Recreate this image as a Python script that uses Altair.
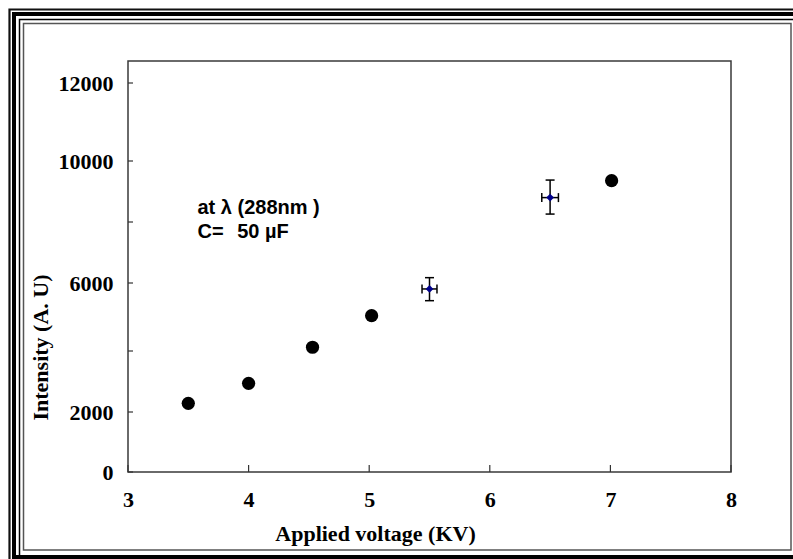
import altair as alt
import pandas as pd

# ---- data ----
voltage = [3.5, 4.0, 4.53, 5.02, 7.01]
intensity = [2285, 2940, 4110, 5040, 9355]

err_voltage = [5.5, 6.5]
err_intensity = [5825, 8800]
err_y_low = [5480, 8260]
err_y_high = [6175, 9375]
err_x_half = [0.062, 0.069]

x_ticks = [3, 4, 5, 6, 7, 8]
y_ticks = [0, 2000, 4000, 6000, 8000, 10000, 12000]
y_labels = [0, 2000, 6000, 10000, 12000]

note_line1 = "at λ (288nm )"
note_c = "C="
note_val = "50 µF"

# ---- tables ----
pts = pd.DataFrame({"v": voltage, "i": intensity})
err = pd.DataFrame({
    "v": err_voltage,
    "i": err_intensity,
    "ylo": err_y_low,
    "yhi": err_y_high,
    "xlo": [v - h for v, h in zip(err_voltage, err_x_half)],
    "xhi": [v + h for v, h in zip(err_voltage, err_x_half)],
})
xt = pd.DataFrame({"t": x_ticks})
yt = pd.DataFrame({"t": y_ticks})
notes = pd.DataFrame({
    "x": [3.576, 3.576, 3.905],
    "y": [8262, 7475, 7475],
    "txt": [note_line1, note_c, note_val],
})
one = pd.DataFrame({"k": [0]})

xscale = alt.Scale(domain=[3, 8], nice=False, zero=False)
# the reference's intensity axis is not evenly spaced: follow its tick positions
yscale = alt.Scale(
    domain=[0, 2000, 4000, 6000, 8000, 10000, 12000, 12700],
    range=[411, 351, 290, 222, 161, 100, 22, 0],
    nice=False, zero=False,
)

serif = "Liberation Serif"

x_axis = alt.Axis(
    values=x_ticks, format="d", title="Applied voltage (KV)",
    labelFont=serif, labelFontSize=22, labelFontWeight="bold", labelColor="black",
    labelPadding=17, labelFlush=False, ticks=False, tickSize=0, domain=False, grid=False,
    titleFont=serif, titleFontSize=22, titleFontWeight="bold", titleColor="black",
    titleX=247, titleY=68, titleAlign="center", titleBaseline="alphabetic",
    zindex=1,
)
y_axis = alt.Axis(
    values=y_labels, format="d", title="Intensity (A. U)",
    labelFont=serif, labelFontSize=22, labelFontWeight="bold", labelColor="black",
    labelPadding=15, labelFlush=False, ticks=False, tickSize=0, domain=False, grid=False,
    titleFont=serif, titleFontSize=22, titleFontWeight="bold", titleColor="black",
    titleX=-81, titleY=286, titleAngle=-90, titleAlign="center", titleBaseline="alphabetic",
    zindex=1,
)

points = alt.Chart(pts).mark_circle(size=175, color="black", opacity=1).encode(
    x=alt.X("v:Q", scale=xscale, axis=x_axis),
    y=alt.Y("i:Q", scale=yscale, axis=y_axis),
)

vbar = alt.Chart(err).mark_rule(color="black", strokeWidth=1.5).encode(
    x=alt.X("v:Q", scale=xscale),
    y=alt.Y("ylo:Q", scale=yscale),
    y2="yhi:Q",
)
hbar = alt.Chart(err).mark_rule(color="black", strokeWidth=1.5).encode(
    y=alt.Y("i:Q", scale=yscale),
    x=alt.X("xlo:Q", scale=xscale),
    x2="xhi:Q",
)
cap_lo = alt.Chart(err).mark_tick(orient="horizontal", size=9, thickness=1.5, color="black", opacity=1).encode(
    x=alt.X("v:Q", scale=xscale),
    y=alt.Y("ylo:Q", scale=yscale),
)
cap_hi = alt.Chart(err).mark_tick(orient="horizontal", size=9, thickness=1.5, color="black", opacity=1).encode(
    x=alt.X("v:Q", scale=xscale),
    y=alt.Y("yhi:Q", scale=yscale),
)
cap_l = alt.Chart(err).mark_tick(orient="vertical", size=9, thickness=1.5, color="black", opacity=1).encode(
    x=alt.X("xlo:Q", scale=xscale),
    y=alt.Y("i:Q", scale=yscale),
)
cap_r = alt.Chart(err).mark_tick(orient="vertical", size=9, thickness=1.5, color="black", opacity=1).encode(
    x=alt.X("xhi:Q", scale=xscale),
    y=alt.Y("i:Q", scale=yscale),
)
diamonds = alt.Chart(err).mark_point(shape="diamond", filled=True, color="#00008b", size=60, opacity=1).encode(
    x=alt.X("v:Q", scale=xscale),
    y=alt.Y("i:Q", scale=yscale),
)

# inward tick marks
yticks = alt.Chart(yt).mark_rule(color="#333333", strokeWidth=1.2).encode(
    y=alt.Y("t:Q", scale=yscale),
    x=alt.value(0), x2=alt.value(5),
)
xticks = alt.Chart(xt).mark_rule(color="#333333", strokeWidth=1.2).encode(
    x=alt.X("t:Q", scale=xscale),
    y=alt.value(411), y2=alt.value(404),
)

texts = alt.Chart(notes).mark_text(
    align="left", baseline="alphabetic", font="Liberation Sans",
    fontWeight="bold", fontSize=20, color="black",
).encode(
    x=alt.X("x:Q", scale=xscale),
    y=alt.Y("y:Q", scale=yscale),
    text="txt:N",
)

# decorative page frame
def frame(x, y, x2, y2, color, w):
    return alt.Chart(one).mark_rect(
        filled=False, fillOpacity=0, stroke=color, strokeWidth=w
    ).encode(
        x=alt.value(x), x2=alt.value(x2), y=alt.value(y), y2=alt.value(y2)
    )

frames = [
    frame(-118.5, -51.5, 800, 900, "#111111", 2.2),
    frame(-114, -47, 800, 496, "#000000", 4),
    frame(-108.5, -41.5, 800, 900, "#000000", 1.5),
    frame(-104.5, -37.5, 663, 489, "#555555", 1.5),
]

chart = alt.layer(
    points, vbar, hbar, cap_lo, cap_hi, cap_l, cap_r, diamonds, texts, yticks, xticks, *frames
).properties(
    width=603, height=411,
    padding={"left": 128, "top": 61, "right": 62, "bottom": 87},
    autosize="none", background="white",
).configure_view(stroke="#3a3a3a", strokeWidth=1.5)

chart.save("out.html", embed_options={"renderer": "svg", "actions": False})
